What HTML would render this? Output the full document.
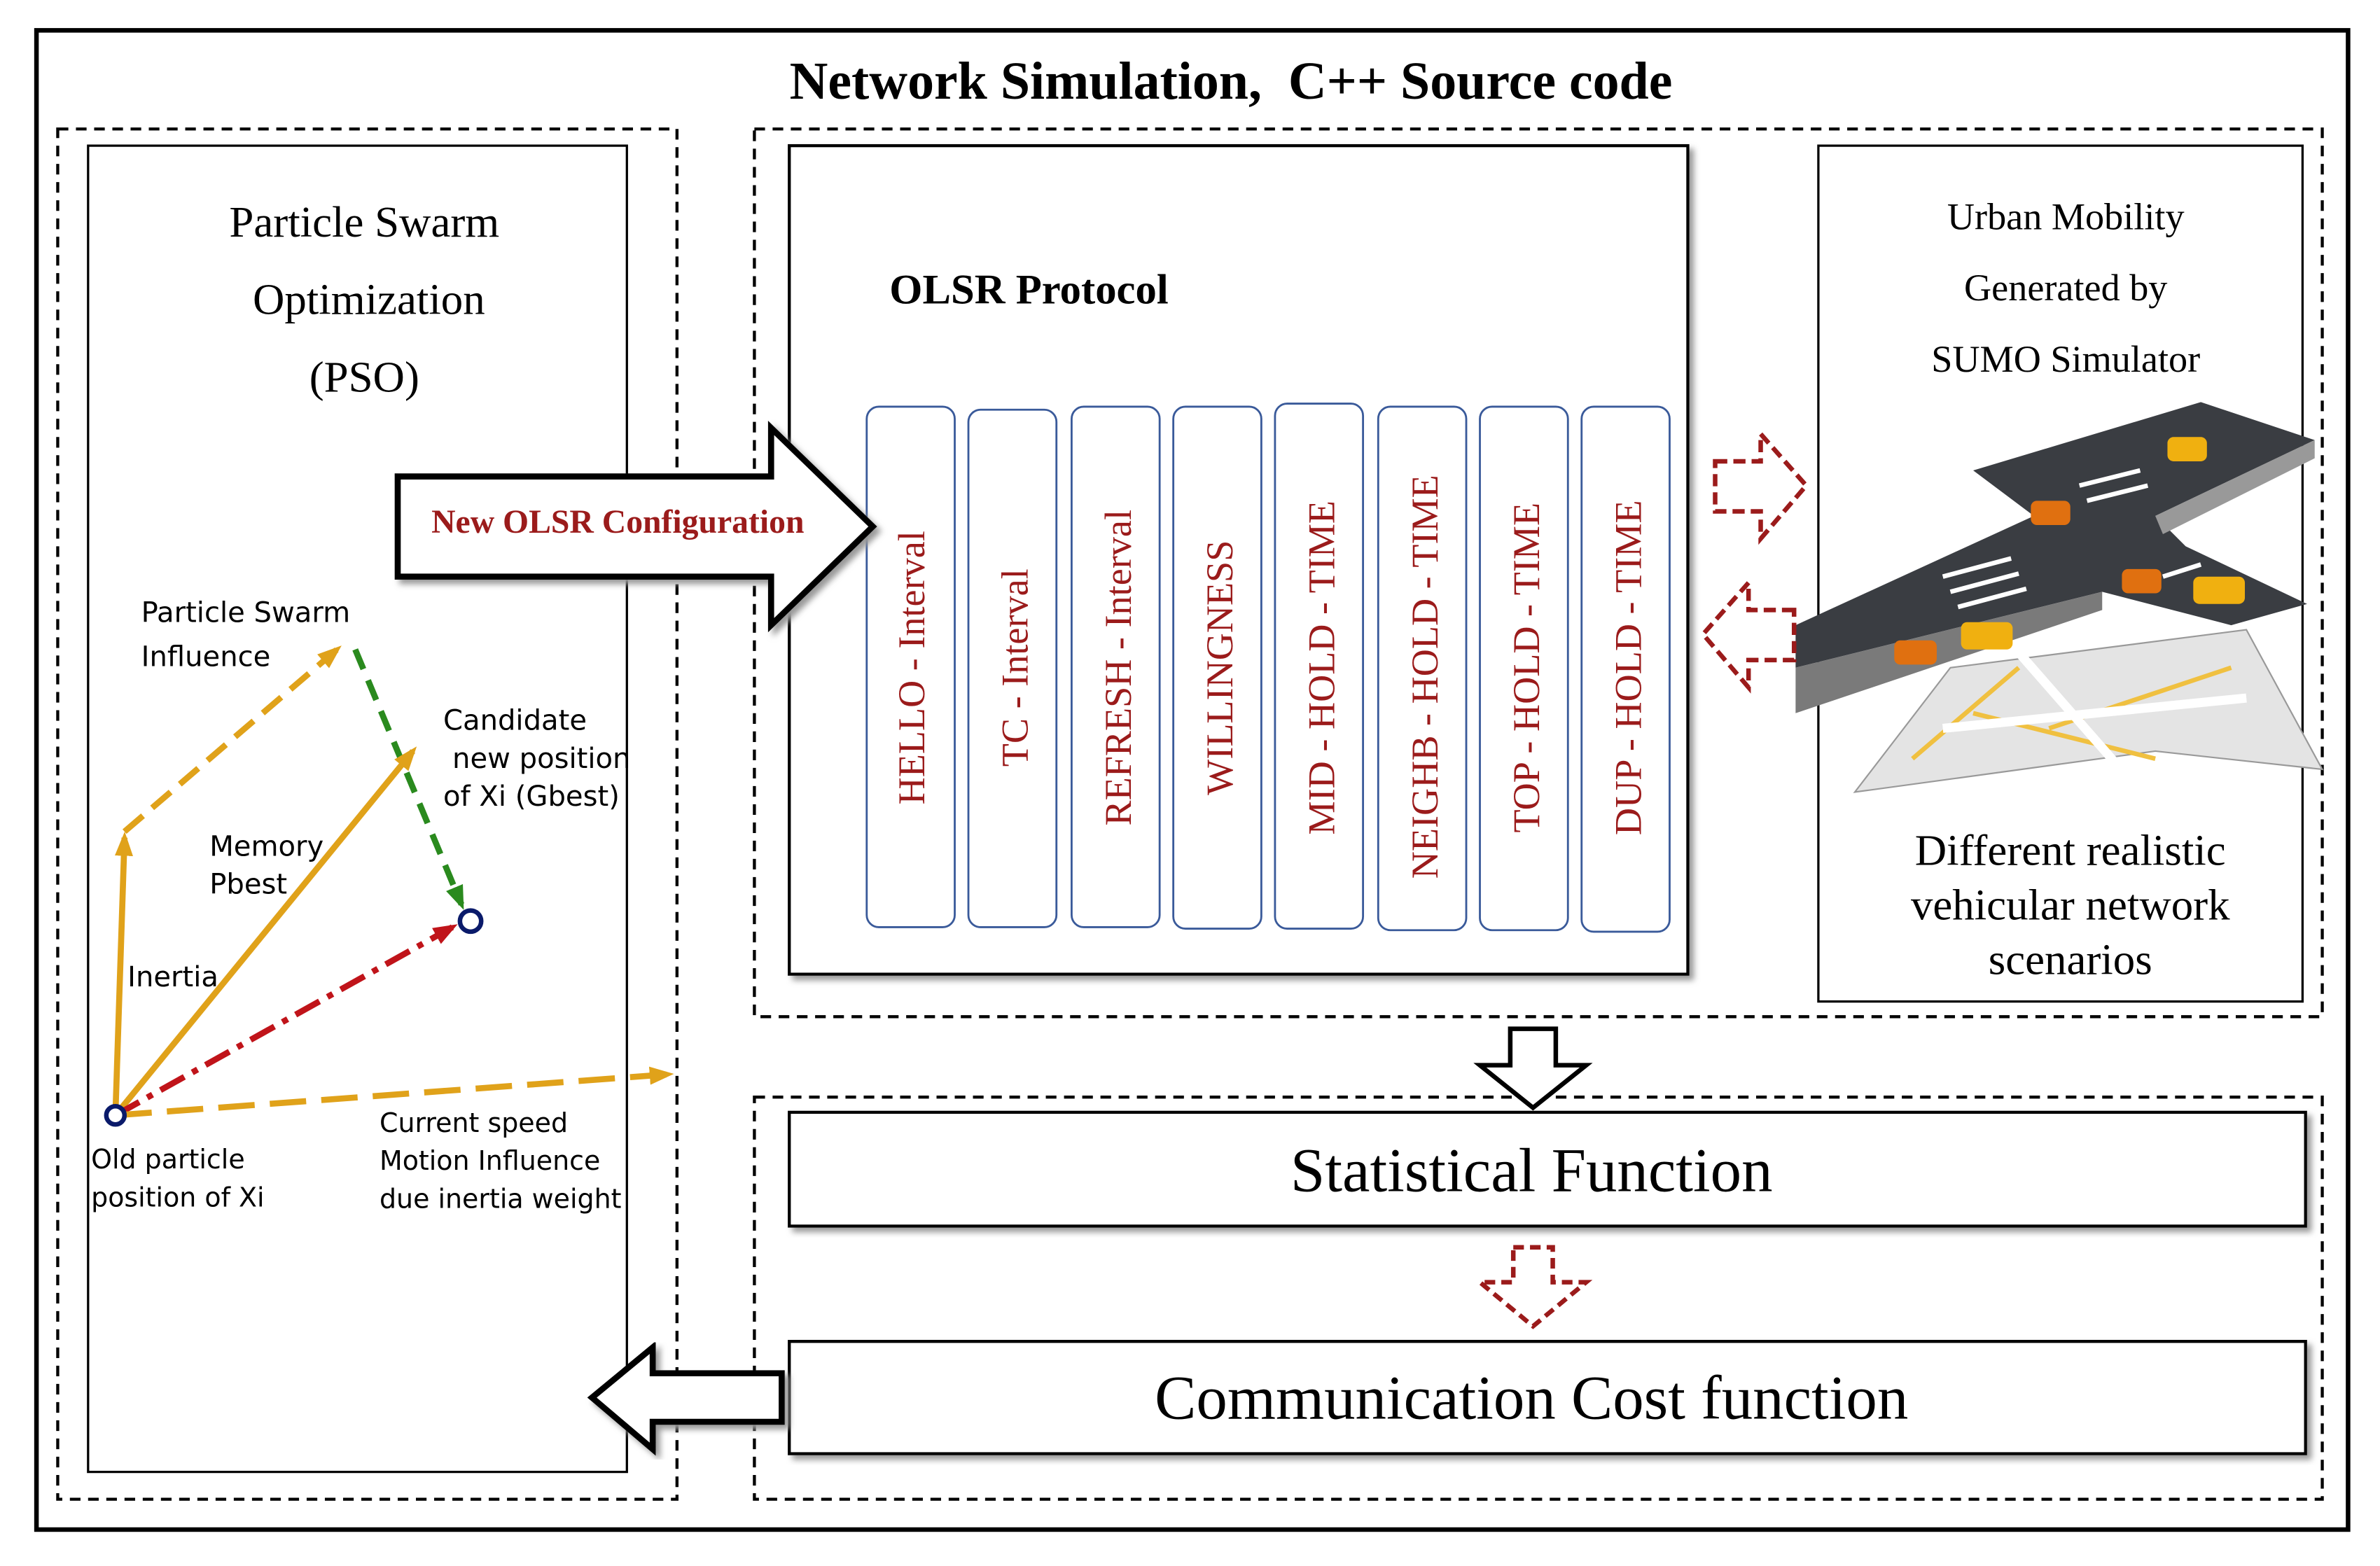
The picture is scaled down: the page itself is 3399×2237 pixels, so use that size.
<!DOCTYPE html>
<html><head><meta charset="utf-8"><style>
html,body{margin:0;padding:0;background:#fff}
svg{display:block}
.s{font-family:"Liberation Serif",serif}
.a{font-family:"DejaVu Sans","Liberation Sans",sans-serif}
</style></head><body>
<svg width="3399" height="2237" viewBox="0 0 1568 1032" xmlns="http://www.w3.org/2000/svg">
<defs>
<filter id="sh" x="-5%" y="-5%" width="115%" height="115%"><feDropShadow dx="3" dy="3" stdDeviation="2" flood-color="#999"/></filter>
<marker id="mo" markerUnits="userSpaceOnUse" markerWidth="16" markerHeight="16" refX="12" refY="8" orient="auto"><path d="M0,2 L16,8 L0,14 z" fill="#e0a21a"/></marker>
<marker id="mg" markerUnits="userSpaceOnUse" markerWidth="16" markerHeight="16" refX="12" refY="8" orient="auto"><path d="M0,2 L16,8 L0,14 z" fill="#2a8a1e"/></marker>
<marker id="mr" markerUnits="userSpaceOnUse" markerWidth="16" markerHeight="16" refX="12" refY="8" orient="auto"><path d="M0,2 L16,8 L0,14 z" fill="#c0141a"/></marker>
</defs>
<rect width="1568" height="1032" fill="#fff"/>
<rect x="24" y="20" width="1523" height="988" fill="none" stroke="#000" stroke-width="3"/>
<text x="811" y="65" text-anchor="middle" class="s" font-size="35" font-weight="bold" xml:space="preserve">Network Simulation,  C++ Source code</text>

<rect x="38" y="85" width="408" height="903" fill="none" stroke="#000" stroke-width="2" stroke-dasharray="7,5"/>
<rect x="58" y="96" width="355" height="874" fill="#fff" stroke="#000" stroke-width="1.5"/>
<g class="s" font-size="29" text-anchor="middle">
<text x="240" y="156">Particle Swarm</text>
<text x="243" y="207">Optimization</text>
<text x="240" y="258">(PSO)</text>
</g>

<rect x="497" y="85" width="1033" height="585" fill="none" stroke="#000" stroke-width="2" stroke-dasharray="7,5"/>
<rect x="520" y="96" width="592" height="546" fill="#fff" stroke="#000" stroke-width="2" filter="url(#sh)"/>
<text x="586" y="200" class="s" font-size="28" font-weight="bold">OLSR Protocol</text>
<g stroke="#3a5a9a">
<rect x="571" y="268" width="58" height="343" rx="8" fill="#fff" stroke-width="1.3"/>
<rect x="638" y="270" width="58" height="341" rx="8" fill="#fff" stroke-width="1.3"/>
<rect x="706" y="268" width="58" height="343" rx="8" fill="#fff" stroke-width="1.3"/>
<rect x="773" y="268" width="58" height="344" rx="8" fill="#fff" stroke-width="1.3"/>
<rect x="840" y="266" width="58" height="346" rx="8" fill="#fff" stroke-width="1.3"/>
<rect x="908" y="268" width="58" height="345" rx="8" fill="#fff" stroke-width="1.3"/>
<rect x="975" y="268" width="58" height="345" rx="8" fill="#fff" stroke-width="1.3"/>
<rect x="1042" y="268" width="58" height="346" rx="8" fill="#fff" stroke-width="1.3"/>
</g>
<g class="s" font-size="25" fill="#9b1b1b" text-anchor="middle">
<text transform="translate(609,440) rotate(-90)">HELLO - Interval</text>
<text transform="translate(677,440) rotate(-90)">TC - Interval</text>
<text transform="translate(745,440) rotate(-90)">REFRESH - Interval</text>
<text transform="translate(812,440) rotate(-90)">WILLINGNESS</text>
<text transform="translate(879,440) rotate(-90)">MID - HOLD - TIME</text>
<text transform="translate(947,446) rotate(-90)">NEIGHB - HOLD - TIME</text>
<text transform="translate(1014,440) rotate(-90)">TOP - HOLD - TIME</text>
<text transform="translate(1081,440) rotate(-90)">DUP - HOLD - TIME</text>
</g>

<rect x="1198" y="96" width="319" height="564" fill="#fff" stroke="#000" stroke-width="1.5"/>
<g class="s" font-size="25" text-anchor="middle">
<text x="1361" y="151">Urban Mobility</text>
<text x="1361" y="198">Generated by</text>
<text x="1361" y="245">SUMO Simulator</text>
</g>
<g class="s" font-size="29" text-anchor="middle">
<text x="1364" y="570">Different realistic</text>
<text x="1364" y="606">vehicular network</text>
<text x="1364" y="642">scenarios</text>
</g>
<polygon points="1222,522 1285,440 1480,415 1530,507 1420,495" fill="#e4e4e4" stroke="#999"/>
<g stroke="#f0c040" stroke-width="3" fill="none"><path d="M1260,500 L1330,440 M1350,480 L1470,440 M1300,470 L1420,500"/></g>
<g stroke="#fff" stroke-width="6" fill="none"><path d="M1280,480 L1480,460 M1330,430 L1400,510"/></g>
<polygon points="1183,412 1340,340 1300,310 1450,265 1525,290 1420,340 1440,360 1520,398 1470,412 1385,390 1183,440" fill="#3a3d42"/>
<polygon points="1183,440 1385,390 1385,402 1183,470" fill="#7a7a7a"/>
<polygon points="1420,340 1525,290 1525,302 1425,352" fill="#999"/>
<g fill="#e07010"><rect x="1248" y="422" width="28" height="16" rx="4"/><rect x="1338" y="330" width="26" height="16" rx="4"/><rect x="1398" y="375" width="26" height="16" rx="4"/></g>
<g fill="#f0b010"><rect x="1292" y="410" width="34" height="18" rx="4"/><rect x="1428" y="288" width="26" height="16" rx="4"/><rect x="1445" y="380" width="34" height="18" rx="4"/></g>
<g stroke="#fff" stroke-width="3"><path d="M1280,380 L1325,368 M1285,390 L1330,378 M1290,400 L1335,388 M1370,320 L1410,310 M1375,330 L1415,320 M1425,380 L1450,372"/></g>

<path d="M1130,304 L1160,304 L1160,286 L1190,320 L1160,355 L1160,337 L1130,337 Z" fill="#fff" stroke="#9b1b1b" stroke-width="3" stroke-dasharray="8,4"/>
<path d="M1182,402 L1152,402 L1152,384 L1122,418 L1152,453 L1152,435 L1182,435 Z" fill="#fff" stroke="#9b1b1b" stroke-width="3" stroke-dasharray="8,4"/>

<path d="M262,314 L508,314 L508,282 L575,347 L508,412 L508,380 L262,380 Z" fill="#fff" stroke="#000" stroke-width="4" filter="url(#sh)"/>
<text x="407" y="351" text-anchor="middle" class="s" font-size="22" font-weight="bold" fill="#9b1b1b">New OLSR Configuration</text>

<rect x="497" y="723" width="1033" height="265" fill="none" stroke="#000" stroke-width="2" stroke-dasharray="7,5"/>
<path d="M995,678 L1025,678 L1025,702 L1045,702 L1010,730 L975,702 L995,702 Z" fill="#fff" stroke="#000" stroke-width="3"/>
<rect x="520" y="733" width="999" height="75" fill="#fff" stroke="#000" stroke-width="2" filter="url(#sh)"/>
<text x="1009" y="785" text-anchor="middle" class="s" font-size="41">Statistical Function</text>
<path d="M997,822 L1023,822 L1023,845 L1045,845 L1010,874 L975,845 L997,845 Z" fill="#fff" stroke="#9b1b1b" stroke-width="3" stroke-dasharray="7,4"/>
<rect x="520" y="884" width="999" height="74" fill="#fff" stroke="#000" stroke-width="2" filter="url(#sh)"/>
<text x="1009" y="935" text-anchor="middle" class="s" font-size="41">Communication Cost function</text>
<path d="M515,905 L430,905 L430,888 L390,921 L430,955 L430,937 L515,937 Z" fill="#fff" stroke="#000" stroke-width="4" filter="url(#sh)"/>

<g fill="none" stroke-width="4">
<line x1="76" y1="735" x2="82" y2="552" stroke="#e0a21a" marker-end="url(#mo)"/>
<line x1="82" y1="548" x2="222" y2="428" stroke="#e0a21a" stroke-dasharray="16,8" marker-end="url(#mo)"/>
<line x1="234" y1="428" x2="304" y2="596" stroke="#2a8a1e" stroke-dasharray="14,8" marker-end="url(#mg)"/>
<line x1="76" y1="735" x2="272" y2="495" stroke="#e0a21a" marker-end="url(#mo)"/>
<line x1="76" y1="735" x2="298" y2="611" stroke="#c0141a" stroke-dasharray="18,6,4,6" marker-end="url(#mr)"/>
<line x1="76" y1="735" x2="440" y2="708" stroke="#e0a21a" stroke-dasharray="24,10" marker-end="url(#mo)"/>
</g>
<circle cx="76" cy="735" r="6" fill="#fff" stroke="#0a1a6a" stroke-width="3"/>
<circle cx="310" cy="607" r="7" fill="#fff" stroke="#0a1a6a" stroke-width="3"/>
<g class="a" font-size="18.5">
<text x="93" y="410">Particle Swarm</text>
<text x="93" y="439">Influence</text>
<text x="292" y="481">Candidate</text>
<text x="298" y="506">new position</text>
<text x="292" y="531">of Xi (Gbest)</text>
<text x="138" y="564">Memory</text>
<text x="138" y="589">Pbest</text>
<text x="84" y="650">Inertia</text>
</g>
<g class="a" font-size="17.5">
<text x="250" y="746">Current speed</text>
<text x="250" y="771">Motion Influence</text>
<text x="250" y="796">due inertia weight</text>
<text x="60" y="770">Old particle</text>
<text x="60" y="795">position of Xi</text>
</g>
</svg>
</body></html>
